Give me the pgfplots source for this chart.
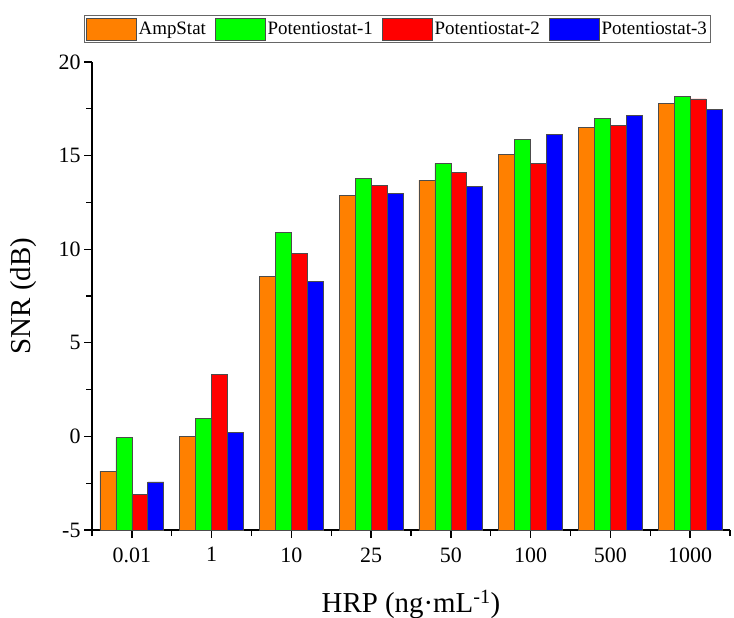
\documentclass[border=0pt]{standalone}
\usepackage{fontspec}
\setmainfont{Liberation Serif}
\usepackage{pgfplots}
\usepackage{pgfplotstable}
\pgfplotsset{compat=1.18}
\usetikzlibrary{calc}

\definecolor{cAmp}{RGB}{255,128,0}
\definecolor{cPone}{RGB}{0,255,0}
\definecolor{cPtwo}{RGB}{255,0,0}
\definecolor{cPthree}{RGB}{0,0,255}

% SNR (dB) per HRP concentration
\pgfplotstableread{
x amp p1 p2 p3
0 -1.86 -0.07 -3.09 -2.43
1 -0.02 0.96 3.32 0.20
2 8.56 10.90 9.79 8.26
3 12.85 13.76 13.40 12.96
4 13.69 14.59 14.11 13.35
5 15.05 15.85 14.57 16.12
6 16.52 17.00 16.63 17.15
7 17.77 18.14 18.03 17.46
}\snrdata

\begin{document}
\begin{tikzpicture}
\begin{axis}[
  scale only axis,
  width=638bp, height=468bp,
  ybar, bar width=0.2,
  % bars stand on the bottom of the axis (-5 dB)
  y filter/.expression={y+5},
  xmin=-0.5, xmax=7.5, ymin=0, ymax=25,
  axis lines*=left,
  axis line style={line width=1.3bp},
  xtick={0,...,7},
  xticklabels={0.01,1,10,25,50,100,500,1000},
  minor xtick={-0.5,0.5,...,7.5},
  ytick={0,5,...,25},
  yticklabels={-5,0,5,10,15,20},
  minor ytick={2.5,7.5,...,22.5},
  tick align=outside,
  major tick length=8bp, minor tick length=6bp,
  every tick/.style={black, line width=1.3bp},
  ticklabel style={font=\fontsize{22}{22}\selectfont},
  /pgf/number format/assume math mode=true,
  xticklabel style={yshift=-6bp},
  xlabel={HRP (ng·mL\textsuperscript{-1})},
  ylabel={SNR (dB)},
  label style={font=\fontsize{29}{29}\selectfont},
  xlabel style={at={(axis description cs:0.5,-0.158)}, anchor=center},
  ylabel style={at={(axis description cs:-0.107,0.5)}, anchor=center},
  legend columns=4,
  legend style={at={(rel axis cs:-0.013,1.04)}, anchor=south west,
    draw=black!60, line width=1.2bp,
    font=\fontsize{19}{19}\selectfont,
    inner xsep=2bp, inner ysep=2bp,
    nodes={inner sep=1.5bp},
    /tikz/every even column/.append style={column sep=8bp}},
  legend image code/.code={\draw[#1, line width=0.8bp] (0bp,-11bp) rectangle (50bp,11bp);},
  every axis plot/.append style={draw=black!70, line width=0.7bp},
]
\addplot[fill=cAmp, bar shift=-0.3] table[x=x, y=amp] {\snrdata};
\addplot[fill=cPone, bar shift=-0.1] table[x=x, y=p1] {\snrdata};
\addplot[fill=cPtwo, bar shift=0.1] table[x=x, y=p2] {\snrdata};
\addplot[fill=cPthree, bar shift=0.3] table[x=x, y=p3] {\snrdata};
\legend{AmpStat, Potentiostat-1, Potentiostat-2, Potentiostat-3}
\end{axis}
\pgfresetboundingbox
\path[use as bounding box] ($(current axis.south west)+(-92bp,-87bp)$) rectangle ($(current axis.north east)+(4bp,62bp)$);
\end{tikzpicture}
\end{document}
